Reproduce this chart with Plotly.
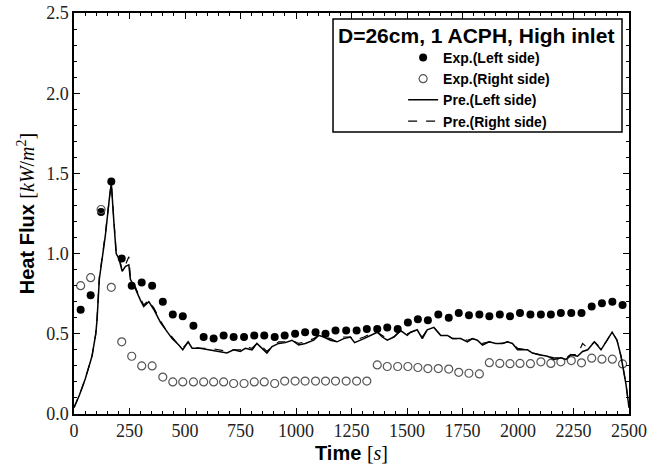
import plotly.graph_objects as go

# ---------------- data ----------------
exp_t = [30, 75, 122, 168, 215, 260, 305, 352, 400, 445, 490, 538, 584, 629, 674, 719, 766, 812,
         857, 904, 949, 996, 1041, 1088, 1133, 1178, 1226, 1273, 1319, 1366, 1411, 1458, 1504, 1549,
         1594, 1641, 1688, 1733, 1779, 1826, 1871, 1918, 1964, 2009, 2056, 2103, 2148, 2193, 2240,
         2286, 2332, 2378, 2425, 2471]
exp_left = [0.65, 0.74, 1.26, 1.45, 0.97, 0.80, 0.82, 0.80, 0.70, 0.62,
            0.61, 0.55, 0.48, 0.47, 0.49, 0.48, 0.48, 0.49, 0.49, 0.48,
            0.49, 0.50, 0.51, 0.51, 0.50, 0.52, 0.52, 0.52, 0.53, 0.53,
            0.54, 0.53, 0.57, 0.59, 0.585, 0.62, 0.60, 0.63, 0.615, 0.62,
            0.61, 0.62, 0.61, 0.63, 0.62, 0.62, 0.62, 0.63, 0.63, 0.63,
            0.67, 0.69, 0.70, 0.68]
exp_right = [0.80, 0.85, 1.275, 0.79, 0.45, 0.36, 0.30, 0.30, 0.23, 0.20,
             0.20, 0.20, 0.20, 0.20, 0.20, 0.19, 0.19, 0.20, 0.20, 0.19,
             0.205, 0.205, 0.205, 0.205, 0.205, 0.205, 0.205, 0.205, 0.205,
             0.306, 0.296, 0.296, 0.296, 0.29, 0.283, 0.283, 0.28, 0.26, 0.254, 0.25,
             0.32, 0.315, 0.314, 0.315, 0.314, 0.325, 0.315, 0.325, 0.333, 0.319,
             0.348, 0.342, 0.342, 0.3125]

pre_t = [0, 25, 51, 81, 98, 104, 114, 141, 159, 168, 179, 190, 202, 217, 232, 247, 254, 277,
         299, 314, 337, 360, 390, 412, 442, 472, 490, 514, 532, 568, 614, 659, 689, 719, 749,
         772, 802, 824, 847, 869, 892, 922, 952, 982, 1012, 1042, 1080, 1102, 1125, 1155, 1185,
         1215, 1245, 1264, 1306, 1336, 1366, 1389, 1411, 1441, 1471, 1501, 1516, 1546, 1569,
         1591, 1621, 1652, 1682, 1705, 1742, 1772, 1795, 1817, 1840, 1870, 1900, 1930, 1953,
         1975, 1998, 2043, 2065, 2095, 2133, 2163, 2193, 2216, 2238, 2268, 2291, 2314, 2344,
         2374, 2397, 2424, 2446, 2464, 2486, 2500]
pre_left = [0.04, 0.12, 0.22, 0.36, 0.50, 0.59, 0.84, 1.11, 1.34, 1.44,
            1.21, 1.00, 0.97, 0.89, 0.92, 0.93, 0.84, 0.78, 0.71, 0.67,
            0.70, 0.65, 0.57, 0.525, 0.47, 0.43, 0.40, 0.45, 0.41, 0.41,
            0.40, 0.39, 0.38, 0.40, 0.39, 0.41, 0.40, 0.44, 0.41, 0.38,
            0.42, 0.44, 0.445, 0.46, 0.43, 0.44, 0.46, 0.49, 0.48, 0.46,
            0.45, 0.47, 0.48, 0.445, 0.47, 0.49, 0.51, 0.48, 0.46, 0.48,
            0.52, 0.49, 0.51, 0.525, 0.47, 0.525, 0.54, 0.49, 0.49, 0.47,
            0.47, 0.45, 0.47, 0.46, 0.43, 0.45, 0.44, 0.44, 0.45, 0.44,
            0.40, 0.40, 0.38, 0.37, 0.36, 0.34, 0.35, 0.34, 0.37, 0.36,
            0.39, 0.40, 0.45, 0.40, 0.45, 0.51, 0.46, 0.36, 0.19, 0.04]
pre_right = [0.04, 0.12, 0.22, 0.36, 0.50, 0.60, 0.85, 1.12, 1.34, 1.44,
             1.22, 1.01, 0.98, 0.90, 0.93, 0.98, 0.85, 0.79, 0.72, 0.68,
             0.71, 0.66, 0.58, 0.53, 0.48, 0.43, 0.41, 0.45, 0.42, 0.41,
             0.41, 0.40, 0.39, 0.40, 0.40, 0.42, 0.41, 0.44, 0.42, 0.39,
             0.42, 0.45, 0.45, 0.46, 0.44, 0.45, 0.47, 0.49, 0.48, 0.47,
             0.45, 0.48, 0.48, 0.46, 0.48, 0.50, 0.51, 0.49, 0.47, 0.48,
             0.52, 0.50, 0.51, 0.525, 0.48, 0.525, 0.54, 0.49, 0.49, 0.47,
             0.47, 0.46, 0.47, 0.46, 0.44, 0.45, 0.44, 0.44, 0.45, 0.44,
             0.41, 0.40, 0.38, 0.37, 0.36, 0.35, 0.35, 0.35, 0.37, 0.37,
             0.44, 0.41, 0.45, 0.41, 0.45, 0.51, 0.46, 0.36, 0.19, 0.04]

x_ticks = [0, 250, 500, 750, 1000, 1250, 1500, 1750, 2000, 2250, 2500]
y_ticks = [0.0, 0.5, 1.0, 1.5, 2.0, 2.5]

SERIF = "Liberation Serif, DejaVu Serif, serif"
SANS = "Liberation Sans, Arial, sans-serif"

fig = go.Figure()
fig.add_trace(go.Scatter(x=exp_t, y=exp_left, mode="markers", name="Exp.(Left side)",
                         marker=dict(symbol="circle", size=8, color="black")))
fig.add_trace(go.Scatter(x=exp_t, y=exp_right, mode="markers", name="Exp.(Right side)",
                         marker=dict(symbol="circle-open", size=8, color="#555555",
                                     line=dict(width=1.2, color="#555555"))))
fig.add_trace(go.Scatter(x=pre_t, y=pre_left, mode="lines", name="Pre.(Left side)",
                         line=dict(color="black", width=1.5)))
fig.add_trace(go.Scatter(x=pre_t, y=pre_right, mode="lines", name="Pre.(Right side)",
                         line=dict(color="black", width=1.2, dash="dash")))

axis_common = dict(showline=True, linecolor="black", linewidth=1.5, mirror="allticks",
                   ticks="inside", ticklen=6, tickwidth=1, tickcolor="black",
                   showgrid=False, zeroline=False, automargin=False,
                   tickfont=dict(family=SERIF, size=18, color="#222222"))

fig.update_xaxes(range=[0, 2500], tickvals=x_ticks, ticktext=[str(v) for v in x_ticks],
                 minor=dict(ticks="inside", ticklen=3, dtick=50, tickcolor="black"),
                 title=dict(text="<b>Time</b> <span style='font-family:Liberation Serif'>[<i>s</i>]</span>",
                            font=dict(family=SANS, size=20, color="black"), standoff=6),
                 **axis_common)
fig.update_yaxes(range=[0, 2.5], tickvals=y_ticks, ticktext=[f"{v:.1f}" for v in y_ticks],
                 minor=dict(ticks="inside", ticklen=3, dtick=0.1, tickcolor="black"),
                 title=dict(text="<b>Heat Flux</b> <span style='font-family:Liberation Serif'>[<i>kW</i>/<i>m</i><sup>2</sup>]</span>",
                            font=dict(family=SANS, size=20, color="black"), standoff=6),
                 **axis_common)

fig.add_shape(type="rect", xref="paper", yref="paper", x0=0.4667, x1=0.9874, y0=0.7032, y1=0.985,
              line=dict(color="black", width=1.5), fillcolor="rgba(0,0,0,0)")
fig.add_annotation(xref="paper", yref="paper", x=0.7243, y=0.945, showarrow=False,
                   xanchor="center", yanchor="middle",
                   text="<b>D=26cm, 1 ACPH, High inlet</b>",
                   font=dict(family=SANS, size=21, color="black"))

fig.update_layout(
    width=652, height=470,
    margin=dict(l=74, r=23, t=13, b=56),
    plot_bgcolor="white", paper_bgcolor="white",
    legend=dict(x=0.593, y=0.928, xanchor="left", yanchor="top",
                bgcolor="rgba(0,0,0,0)", borderwidth=0,
                font=dict(family=SANS, size=14, color="black", weight="bold"),
                itemwidth=30, tracegroupgap=0),
)

fig.write_html("out.html")
